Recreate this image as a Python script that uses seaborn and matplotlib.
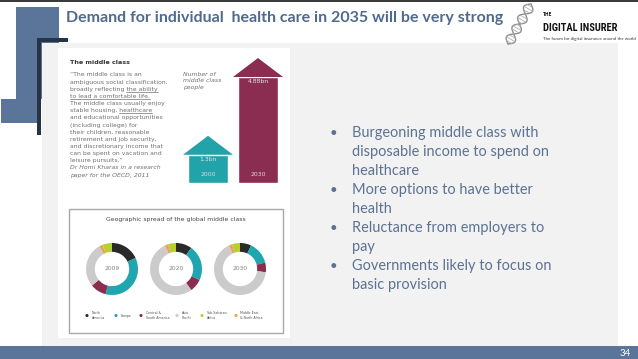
import matplotlib
matplotlib.use("Agg")
import matplotlib.pyplot as plt
import seaborn as sns
import pandas as pd
import numpy as np
from matplotlib.patches import Rectangle, Polygon
from matplotlib import font_manager

# ---------------- data ----------------
title = "Demand for individual  health care in 2035 will be very strong"
bullets = [
    ["Burgeoning middle class with", "disposable income to spend on", "healthcare"],
    ["More options to have better", "health"],
    ["Reluctance from employers to", "pay"],
    ["Governments likely to focus on", "basic provision"],
]
page_number = "34"

arrow_years = ["2000", "2030"]
arrow_values = [1.3, 4.88]
arrow_labels = ["1.3bn", "4.88bn"]

quote_heading = "The middle class"
quote_lines = [
    "\u201cThe middle class is an",
    "ambiguous social classification,",
    "broadly reflecting the ability",
    "to lead a comfortable life.",
    "The middle class usually enjoy",
    "stable housing, healthcare",
    "and educational opportunities",
    "(including college) for",
    "their children, reasonable",
    "retirement and job security,",
    "and discretionary income that",
    "can be spent on vacation and",
    "leisure pursuits.\u201d",
]
quote_underlined = {2: "the ability", 3: "to lead a comfortable life.", 5: "healthcare"}
quote_source = ["Dr Homi Kharas in a research", "paper for the OECD, 2011"]
arrow_caption = "Number of\nmiddle class\npeople"

donut_title = "Geographic spread of the global middle class"
donut_years = ["2009", "2020", "2030"]
regions = ["North America", "Europe", "Central & South America",
           "Asia Pacific", "Sub-Saharan Africa", "Middle East & North Africa"]
legend_labels = ["North\nAmerica", "Europe", "Central &\nSouth America",
                 "Asia\nPacific", "Sub-Saharan\nAfrica", "Middle East\n& North Africa"]
share_2009 = [18, 36, 10, 28, 6, 2]
share_2020 = [10, 22, 8, 53, 5, 2]
share_2030 = [7, 14, 6, 66, 5, 2]
donut_order = ["North America", "Europe", "Central & South America",
               "Asia Pacific", "Middle East & North Africa", "Sub-Saharan Africa"]

# ---------------- style ----------------
sns.set_theme(style="white")
plt.rcParams['font.family'] = ['Lato', 'DejaVu Sans']

W, H, DPI = 638, 359, 100
SLATE = "#5a7599"
TITLE_C = "#4e6a8e"
BULLET_C = "#5d7293"
TEAL = "#22a3aa"
MAROON = "#8a2d50"
region_colors = {
    "North America": "#2a2a2a",
    "Europe": "#1fa6b0",
    "Central & South America": "#8a2d50",
    "Asia Pacific": "#cbcbcb",
    "Sub-Saharan Africa": "#b8cf34",
    "Middle East & North Africa": "#f0a04e",
}
INFO_TXT = "#707070"
INFO_FONT = ["DejaVu Sans"]

# condensed font for the logo, if one is installed
entries = font_manager.fontManager.ttflist
names = {f.name for f in entries}
LOGO_FONT, LOGO_STRETCH = ["DejaVu Sans"], "normal"
for cand in ["Liberation Sans Narrow", "DejaVu Sans Condensed", "Roboto Condensed",
             "Open Sans Condensed", "Noto Sans Condensed"]:
    if cand in names:
        LOGO_FONT = [cand]
        break
else:
    for f in entries:
        if f.name in ("DejaVu Sans", "Noto Sans", "Open Sans", "Roboto") and \
                str(f.stretch) in ("condensed", "semi-condensed", "extra-condensed", "75", "87"):
            LOGO_FONT, LOGO_STRETCH = [f.name], f.stretch
            break

fig = plt.figure(figsize=(W / DPI, H / DPI), dpi=DPI)
fig.patch.set_facecolor("white")
bg = fig.add_axes([0, 0, 1, 1])
bg.set_xlim(0, W)
bg.set_ylim(H, 0)
bg.axis("off")
renderer = fig.canvas.get_renderer()


def rect(x0, y0, x1, y1, color, z=1, **kw):
    bg.add_patch(Rectangle((x0, y0), x1 - x0, y1 - y0, facecolor=color,
                           edgecolor=kw.pop("ec", "none"), lw=kw.pop("lw", 0),
                           zorder=z, **kw))


def px_axes(x0, y0, x1, y1):
    a = fig.add_axes([x0 / W, 1 - y1 / H, (x1 - x0) / W, (y1 - y0) / H])
    a.patch.set_alpha(0)
    return a


def width_of(t):
    return t.get_window_extent(renderer).width


def fit(t, width):
    t.set_fontsize(t.get_fontsize() * width / width_of(t))
    return t.get_fontsize()


def measure(s, **kw):
    t = bg.text(0, 0, s, **kw)
    w = width_of(t)
    t.remove()
    return w

# ---------------- slide decoration ----------------
rect(0, 0, W, 2, "#3a3a3a", z=5)
rect(16, 7, 59, 99, SLATE, z=1)
rect(1, 99, 37, 123, SLATE, z=1)
rect(42, 43, 618, 346, "#f2f2f2", z=2)
rect(37, 38, 41, 135, "#263445", z=3)
rect(37, 38, 68, 42, "#263445", z=3)
rect(0, 346, W, H, SLATE, z=4)
bg.text(625, 353, page_number, color="white", fontsize=7, ha="center",
        va="center", zorder=6)

# title
t = bg.text(66, 18, title, color=TITLE_C, fontsize=11, fontweight="bold",
            ha="left", va="center", zorder=6)
fit(t, 437)

# logo
A = np.array([508.0, 44.0]); B = np.array([531.0, 4.0])
d = B - A; n = np.array([-d[1], d[0]]) / np.linalg.norm(d)
tt = np.linspace(0, 1, 200)
for sgn in (1, -1):
    pts = A + np.outer(tt, d) + np.outer(sgn * 5 * np.sin(2 * np.pi * 2 * tt), n)
    bg.plot(pts[:, 0], pts[:, 1], color="#8f8f8f", lw=1.0, zorder=6)
for tk in np.linspace(0.05, 0.95, 14):
    p = A + tk * d
    s = 5 * np.sin(2 * np.pi * 2 * tk)
    q1, q2 = p + s * n, p - s * n
    bg.plot([q1[0], q2[0]], [q1[1], q2[1]], color="#b0b0b0", lw=0.6, zorder=6)
bg.text(543, 15, "THE", fontsize=4, fontweight="bold", color="#111111",
        ha="left", va="center", zorder=6, family=LOGO_FONT, fontstretch=LOGO_STRETCH)
t = bg.text(543, 28, "DIGITAL INSURER", fontsize=9, fontweight="bold",
            color="#111111", ha="left", va="center", zorder=6,
            family=LOGO_FONT, fontstretch=LOGO_STRETCH)
fit(t, 75)
t = bg.text(543, 39, "The forum for digital insurance around the world",
            fontsize=3, color="#333333", ha="left", va="center", zorder=6)
fit(t, 92)

# bullets
tref = bg.text(0, 0, bullets[0][1], fontsize=10.5)
fs_b = 10.5 * 198 / width_of(tref)
tref.remove()
y = 133
for group in bullets:
    bg.text(333, y, "\u2022", color=BULLET_C, fontsize=fs_b * 0.9, ha="center",
            va="center", zorder=6)
    for line in group:
        bg.text(352, y, line, color=BULLET_C, fontsize=fs_b, ha="left",
                va="center", zorder=6)
        y += 19

# ---------------- infographic ----------------
rect(58, 48, 290, 338, "white", z=3)
t = bg.text(0, 0, quote_lines[1], fontsize=4.5, family=INFO_FONT)
fs_q = 4.5 * 97 / width_of(t)
t.remove()
bg.text(70, 62, quote_heading, fontsize=fs_q * 1.05, fontweight="bold",
        color="#333333", ha="left", va="center", zorder=6, family=INFO_FONT)
yq = 75
step = 7.15
for i, line in enumerate(quote_lines):
    bg.text(70, yq, line, fontsize=fs_q, color=INFO_TXT, ha="left", va="center",
            zorder=6, family=INFO_FONT)
    if i in quote_underlined:
        full = measure(line, fontsize=fs_q, family=INFO_FONT)
        seg = measure(quote_underlined[i], fontsize=fs_q, family=INFO_FONT)
        bg.plot([70 + full - seg, 70 + full], [yq + 2.6, yq + 2.6],
                color=INFO_TXT, lw=0.5, zorder=6)
    yq += step
for line in quote_source:
    bg.text(70, yq, line, fontsize=fs_q, color=INFO_TXT, ha="left", va="center",
            zorder=6, style="italic", family=INFO_FONT)
    yq += step
bg.text(183, 72, arrow_caption, fontsize=fs_q, color=INFO_TXT, ha="left",
        va="top", zorder=6, style="italic", linespacing=1.35, family=INFO_FONT)

# arrows as bars (seaborn)
PX_PER_BN = 106 / 4.88
axa = px_axes(183, 50, 283, 183)
df_arrow = pd.DataFrame({"year": arrow_years, "value": arrow_values})
sns.barplot(data=df_arrow, x="year", y="value", hue="year",
            palette=[TEAL, MAROON], width=0.8, saturation=1, legend=False,
            ax=axa)
axa.set_xlim(-0.5, 1.5)
axa.set_ylim(0, 133 / PX_PER_BN)
axa.axis("off")
head_h = 19 / PX_PER_BN
for p, lab, yr, col in zip(axa.patches, arrow_labels, arrow_years, [TEAL, MAROON]):
    x0, w, h = p.get_x(), p.get_width(), p.get_height()
    cx = x0 + w / 2
    hw = w * 0.625
    axa.add_patch(Polygon([(cx - hw, h), (cx + hw, h), (cx, h + head_h)],
                          closed=True, facecolor=col, edgecolor="none"))
    axa.text(cx, h - 5 / PX_PER_BN, lab, ha="center", va="center",
             fontsize=fs_q, color="#e4e4e4", family=INFO_FONT)
    axa.text(cx, 9 / PX_PER_BN, yr, ha="center", va="center",
             fontsize=fs_q, color="#d8d8d8", family=INFO_FONT)

# donut box
rect(69, 209, 283, 333, "white", z=4, ec="#a8a8a8", lw=1.0)
t = bg.text(176, 219, donut_title, fontsize=4.5, color="#444444", ha="center",
            va="center", zorder=6, family=INFO_FONT)
fit(t, 141)

shares = {"2009": share_2009, "2020": share_2020, "2030": share_2030}
centers_x = [112, 176, 240]
R = 26
for yr, cx in zip(donut_years, centers_x):
    ax = px_axes(cx - R, 269 - R, cx + R, 269 + R)
    vals = dict(zip(regions, shares[yr]))
    ax.pie([vals[r] for r in donut_order],
           colors=[region_colors[r] for r in donut_order],
           startangle=90, counterclock=False, radius=1,
           wedgeprops=dict(width=0.34, edgecolor="none"))
    ax.set_xlim(-1, 1)
    ax.set_ylim(-1, 1)
    ax.set_aspect("equal")
    ax.text(0, 0, yr, ha="center", va="center", fontsize=4.3, color="#808080",
            family=INFO_FONT)

# legend
legend_x = [87, 116, 141, 177, 202, 236]
for r, lab, lx in zip(regions, legend_labels, legend_x):
    bg.scatter([lx], [315.5], s=5, color=region_colors[r], zorder=7,
               edgecolors="none")
    bg.text(lx + 4.5, 315.5, lab, fontsize=2.3, color="#555555", ha="left",
            va="center", linespacing=1.1, zorder=7, family=INFO_FONT)

fig.savefig("out.png", dpi=DPI, facecolor="white")
